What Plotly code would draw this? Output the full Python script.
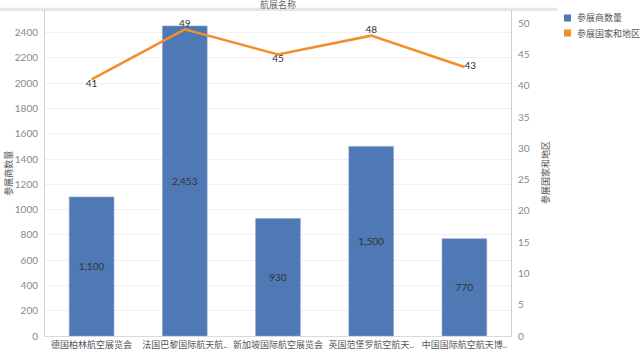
import plotly.graph_objects as go

categories = ["德国柏林航空展览会", "法国巴黎国际航天航..", "新加坡国际航空展览会", "英国范堡罗航空航天..", "中国国际航空航天博.."]
exhibitors = [1100, 2453, 930, 1500, 770]
countries = [41, 49, 45, 48, 43]
country_pos = ["bottom center", "top center", "bottom center", "top center", "middle right"]
series_names = ["参展商数量", "参展国家和地区"]

BLUE = "#4e79b5"
ORANGE = "#f28e2b"
FONT = "Lato, 'Noto Sans CJK SC', sans-serif"

fig = go.Figure()
fig.add_trace(go.Bar(
    x=categories, y=exhibitors, name=series_names[0], width=0.48,
    marker=dict(color=BLUE, line=dict(color="#8aa6d0", width=0.6)),
    text=[f"{v:,}" for v in exhibitors], textposition="inside", insidetextanchor="middle",
    textfont=dict(size=10, color="#333333"), yaxis="y"))
fig.add_trace(go.Scatter(
    x=categories, y=countries, name=series_names[1], mode="lines+text",
    line=dict(color=ORANGE, width=2.5), text=[str(v) for v in countries],
    textposition=country_pos, textfont=dict(size=10, color="#333333"),
    yaxis="y2"))

# custom legend (squares + labels) placed right of the plot
def px_x(p):
    return (p - 45) / 466

def px_y(p):
    return 1 - (p - 10) / 326

legend_shapes = []
legend_annots = []
for i, (nm, col) in enumerate(zip(series_names, [BLUE, ORANGE])):
    cy = 18 + 15 * i
    legend_shapes.append(dict(type="rect", xref="paper", yref="paper",
                              x0=px_x(564), x1=px_x(571), y0=px_y(cy + 3.5), y1=px_y(cy - 3.5),
                              fillcolor=col, line=dict(width=0)))
    legend_annots.append(dict(text=nm, xref="paper", yref="paper", x=px_x(575), y=px_y(cy),
                              xanchor="left", yanchor="middle", showarrow=False,
                              font=dict(size=9, color="#555555")))

fig.update_layout(
    width=641, height=351, margin=dict(l=45, r=130, t=10, b=15, autoexpand=False),
    paper_bgcolor="white", plot_bgcolor="white", showlegend=False,
    font=dict(family=FONT, size=10, color="#888888"),
    xaxis=dict(showgrid=False, ticks="", tickangle=0, automargin=False,
               tickfont=dict(size=9, color="#555555"),
               showline=True, linecolor="#d9d9d9", linewidth=1),
    yaxis=dict(range=[0, 2579], tickvals=list(range(0, 2401, 200)), showgrid=True, automargin=False,
               gridcolor="#f0f0f0", zeroline=False, showline=True, linecolor="#d0d0d0",
               ticks="", tickfont=dict(size=10, color="#888888"), ticklabelstandoff=4),
    yaxis2=dict(range=[0, 52.1], tickvals=list(range(0, 51, 5)), overlaying="y", side="right",
                showgrid=False, zeroline=False, showline=True, linecolor="#d0d0d0", automargin=False,
                ticks="", tickfont=dict(size=10, color="#888888"), ticklabelstandoff=4),
    annotations=[
        dict(text="航展名称", xref="paper", yref="paper", x=0.5, y=1.0, yshift=6,
             showarrow=False, font=dict(size=9, color="#666666"), yanchor="middle"),
        dict(text=series_names[0], xref="paper", yref="paper", x=-0.08, y=0.5, textangle=-90,
             showarrow=False, font=dict(size=9, color="#555555"), xanchor="center"),
        dict(text=series_names[1], xref="paper", yref="paper", x=1.073, y=0.5, textangle=-90,
             showarrow=False, font=dict(size=9, color="#555555"), xanchor="center"),
    ] + legend_annots,
    shapes=[
        dict(type="rect", xref="paper", yref="paper", x0=-0.097, x1=1.099, y0=0.997, y1=1.007,
             fillcolor="#e6e6e6", line=dict(width=0), layer="below"),
    ] + legend_shapes,
)

fig.write_html("out.html")
